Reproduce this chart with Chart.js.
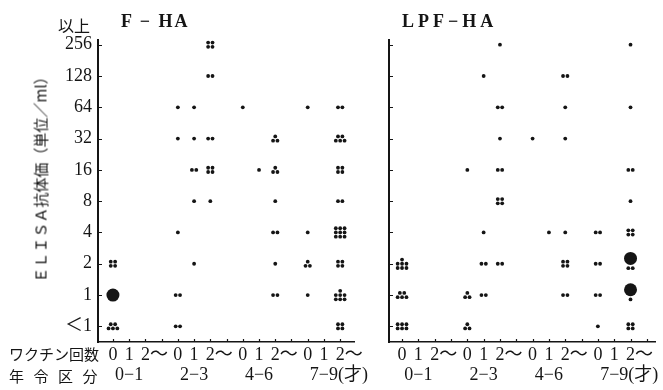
<!DOCTYPE html>
<html lang="ja">
<head>
  <meta charset="UTF-8">
  <title>ELISA抗体価</title>
  <script src="https://cdn.jsdelivr.net/npm/chart.js"></script>
  <style>
    body { margin: 0; background: #fff; }
    #wrap {
      position: relative; width: 663px; height: 390px; overflow: hidden;
      font-family: "Liberation Serif", "Noto Sans CJK JP", serif; color: #151515;
    }
    .box { position: absolute; top: 0; }
    .txt { position: absolute; white-space: nowrap; line-height: 1; }
    .jp { font-family: "Noto Sans CJK JP", sans-serif; font-size: 15px; }
    .ttl { font-weight: bold; font-size: 18px; }
    #yTitle { left: 40px; top: 176px; transform: translate(-50%, -50%) rotate(-90deg); }
  </style>
</head>
<body>
<div id="wrap">
  <div class="box" style="left:0"><canvas id="fhaChart" width="370" height="390"></canvas></div>
  <div class="box" style="left:370px"><canvas id="lpfChart" width="293" height="390"></canvas></div>

  <div class="txt jp" style="left:58px;top:17px;font-size:16px">以上</div>
  <div class="txt ttl" style="left:121px;top:12px;letter-spacing:2px">F − HA</div>
  <div class="txt ttl" style="left:402px;top:12px;letter-spacing:4px">LPF−HA</div>
  <div class="txt jp" id="yTitle">ＥＬＩＳＡ抗体価（単位／ml）</div>
  <div class="txt jp" style="left:9px;top:346px">ワクチン回数</div>
  <div class="txt jp" style="left:9px;top:368px;letter-spacing:9.5px">年令区分</div>
</div>

<script>
  // titer levels, bottom to top
  const titerLabels = ["＜1", "1", "2", "4", "8", "16", "32", "64", "128", "256"];
  // vaccination count under each column, three per age band
  const doseLabels = ["0", "1", "2〜", "0", "1", "2〜", "0", "1", "2〜", "0", "1", "2〜"];
  const ageGroups = ["0−1", "2−3", "4−6", "7−9"];
  const ageUnit = "(才)";
  // slot of each column on the x axis (one empty slot between age bands)
  const colSlots = [0, 1, 2, 4, 5, 6, 8, 9, 10, 12, 13, 14];

  // children per titer level (row, "<1" first) and column
  const fhaCounts = [
    [5,0,0, 2,0,0, 0,0,0, 0,0,4],   // <1
    [0,0,0, 2,0,0, 0,0,2, 1,0,7],   // 1
    [4,0,0, 0,1,0, 0,0,1, 3,0,4],   // 2
    [0,0,0, 1,0,0, 0,0,2, 1,0,9],   // 4
    [0,0,0, 0,1,1, 0,0,1, 0,0,2],   // 8
    [0,0,0, 0,2,4, 0,1,3, 0,0,4],   // 16
    [0,0,0, 1,1,2, 0,0,3, 0,0,5],   // 32
    [0,0,0, 1,1,0, 1,0,0, 1,0,2],   // 64
    [0,0,0, 0,0,2, 0,0,0, 0,0,0],   // 128
    [0,0,0, 0,0,4, 0,0,0, 0,0,0]    // 256
  ];
  // large marks as [column, level]
  const fhaLarge = [[0, 1]];

  const lpfCounts = [
    [6,0,0, 3,0,0, 0,0,0, 1,0,4],   // <1
    [5,0,0, 3,2,0, 0,0,2, 2,0,1],   // 1
    [7,0,0, 0,2,2, 0,0,4, 2,0,2],   // 2
    [0,0,0, 0,1,0, 0,1,1, 2,0,4],   // 4
    [0,0,0, 0,0,4, 0,0,0, 0,0,1],   // 8
    [0,0,0, 1,0,2, 0,0,0, 0,0,2],   // 16
    [0,0,0, 0,0,1, 1,0,1, 0,0,0],   // 32
    [0,0,0, 0,0,2, 0,0,1, 0,0,1],   // 64
    [0,0,0, 0,1,0, 0,0,2, 0,0,0],   // 128
    [0,0,0, 0,0,1, 0,0,0, 0,0,1]    // 256
  ];
  const lpfLarge = [[11, 2], [11, 1]];

  const ink = "#151515";
  const serif = "'Liberation Serif', 'Noto Sans CJK JP', serif";
  const pitchX = 0.27, pitchY = 0.135;

  // spread each count into a small cluster of dots around its cell
  function dotPoints(counts, large) {
    const pts = [];
    counts.forEach((row, lv) => row.forEach((n, c) => {
      if (!n) return;
      const shared = large.some(([lc, ll]) => lc === c && ll === lv);
      const perRow = n <= 2 ? n : n <= 4 ? 2 : 3;
      const rows = Math.ceil(n / perRow);
      const baseY = shared ? lv - 0.14 - (rows - 1) * pitchY / 2 : lv;
      for (let i = 0; i < n; i++) {
        const r = Math.floor(i / perRow);
        const inRow = Math.min(perRow, n - r * perRow);
        pts.push({
          x: colSlots[c] + ((i % perRow) - (inRow - 1) / 2) * pitchX,
          y: baseY + (r - (rows - 1) / 2) * pitchY
        });
      }
    }));
    return pts;
  }

  function largePoints(counts, large) {
    return large.map(([c, lv]) => ({ x: colSlots[c], y: counts[lv][c] ? lv + 0.17 : lv }));
  }

  // inward tick marks and the age band row under the dose labels
  const panelDecor = {
    id: "panelDecor",
    afterDraw(chart) {
      const { ctx, chartArea, scales: { x, y } } = chart;
      ctx.save();
      ctx.strokeStyle = ink;
      ctx.lineWidth = 1.2;
      ctx.beginPath();
      titerLabels.forEach((_, i) => {
        const py = Math.round(y.getPixelForValue(i)) + 0.5;
        ctx.moveTo(chartArea.left, py);
        ctx.lineTo(chartArea.left + 4, py);
      });
      for (let k = 0; k <= 15; k++) {
        if (k < x.min || k > x.max) continue;
        const px = Math.round(x.getPixelForValue(k)) + 0.5;
        ctx.moveTo(px, chartArea.bottom);
        ctx.lineTo(px, chartArea.bottom - 3);
      }
      ctx.stroke();

      ctx.fillStyle = ink;
      ctx.font = "18px " + serif;
      ctx.textBaseline = "middle";
      ctx.textAlign = "left";
      ageGroups.forEach((g, i) => {
        const px = x.getPixelForValue(colSlots[i * 3 + 1]);
        const w = ctx.measureText(g).width;
        ctx.fillText(i === ageGroups.length - 1 ? g + ageUnit : g, px - w / 2, chartArea.bottom + 33);
      });
      ctx.restore();
    }
  };

  function makePanel(canvasId, counts, large, opts) {
    return new Chart(document.getElementById(canvasId), {
      type: "scatter",
      data: {
        datasets: [{
          data: dotPoints(counts, large),
          pointRadius: 1.9,
          backgroundColor: ink,
          borderWidth: 0
        }, {
          data: largePoints(counts, large),
          pointRadius: 6.5,
          backgroundColor: ink,
          borderWidth: 0
        }]
      },
      options: {
        responsive: false,
        animation: false,
        layout: { padding: { top: 40, right: opts.padRight, bottom: 0, left: 0 } },
        plugins: { legend: { display: false }, tooltip: { enabled: false } },
        scales: {
          x: {
            type: "linear",
            min: opts.xMin,
            max: opts.xMax,
            grid: { display: false, drawTicks: false },
            border: { display: true, color: ink, width: 1.5 },
            afterBuildTicks: s => { s.ticks = colSlots.map(v => ({ value: v })); },
            afterFit: s => { s.height = 48; },
            ticks: {
              autoSkip: false,
              maxRotation: 0,
              align: "start",
              labelOffset: -4.5,
              padding: 2,
              color: ink,
              font: { family: serif, size: 18 },
              callback: v => doseLabels[colSlots.indexOf(v)]
            }
          },
          y: {
            type: "linear",
            min: -0.5,
            max: 9.15,
            grid: { display: false, drawTicks: false },
            border: { display: true, color: ink, width: 2 },
            afterBuildTicks: s => { s.ticks = titerLabels.map((_, i) => ({ value: i })); },
            afterFit: s => { s.width = opts.yWidth; },
            ticks: {
              display: opts.showLabels,
              padding: 6,
              color: ink,
              font: { family: serif, size: 18 },
              callback: v => titerLabels[v]
            }
          }
        }
      },
      plugins: [panelDecor]
    });
  }

  makePanel("fhaChart", fhaCounts, fhaLarge,
    { xMin: -0.92, xMax: 14.86, padRight: 15, yWidth: 98, showLabels: true });
  makePanel("lpfChart", lpfCounts, lpfLarge,
    { xMin: -0.8, xMax: 15.5, padRight: 8, yWidth: 19, showLabels: false });
</script>
</body>
</html>
